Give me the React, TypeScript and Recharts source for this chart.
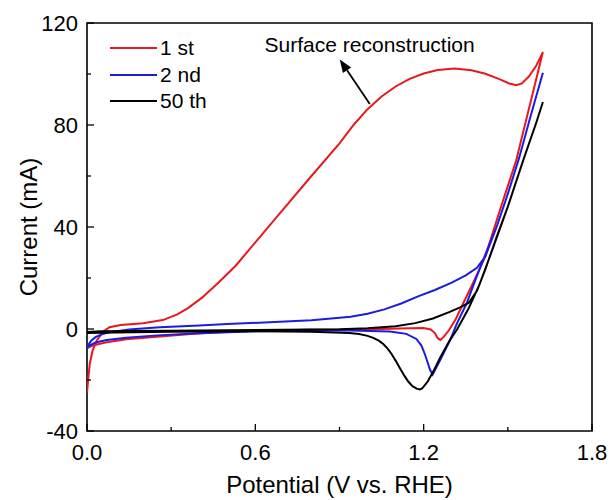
import React from 'react'
import {
  LineChart,
  Line,
  XAxis,
  YAxis,
  ReferenceArea,
  ReferenceLine,
  ReferenceDot,
  Legend,
} from 'recharts'

const FONT = '"Liberation Sans", Arial, sans-serif'

// potential (V vs. RHE), current (mA) -- forward sweep then reverse sweep
const firstForward: [number, number][] = [
  [0, -25], [0.004, -20], [0.01, -13.5], [0.02, -8.5], [0.035, -4.5], [0.055, -1.3],
  [0.08, 0.7], [0.12, 1.6], [0.2, 2.3], [0.27, 3.5], [0.32, 5.6], [0.36, 8.2],
  [0.41, 12.3], [0.47, 18.3], [0.53, 24.8], [0.6, 34], [0.7, 47], [0.8, 60],
  [0.9, 72.8], [0.95, 80], [1.0, 86.2], [1.05, 91.2], [1.1, 95.1], [1.15, 98.1],
  [1.2, 100.2], [1.25, 101.6], [1.31, 102.2], [1.37, 101.5], [1.42, 100.1], [1.47, 98],
  [1.505, 96.3], [1.53, 95.6], [1.55, 96.3], [1.575, 99], [1.6, 103], [1.625, 108.6],
]
const firstReverse: [number, number][] = [
  [1.58, 88.5], [1.53, 66.2], [1.47, 46], [1.418, 28], [1.38, 19], [1.345, 11],
  [1.315, 4], [1.29, -0.5], [1.272, -3], [1.26, -4.3], [1.25, -3.6], [1.24, -1.6],
  [1.225, -0.2], [1.2, 0.4], [1.15, 0.3], [1.05, 0], [0.9, -0.3], [0.79, -0.3],
  [0.6, -0.7], [0.45, -1.4], [0.37, -2], [0.25, -3], [0.14, -4], [0.07, -5.2],
  [0.02, -6.5], [0, -7.5],
]

const secondForward: [number, number][] = [
  [0, -8], [0.005, -6.2], [0.015, -4.6], [0.03, -3.2], [0.055, -2], [0.08, -1.3],
  [0.15, -0.2], [0.26, 0.7], [0.4, 1.4], [0.5, 2], [0.65, 2.6], [0.8, 3.4],
  [0.94, 4.8], [1.0, 6], [1.06, 7.7], [1.12, 10], [1.18, 12.8], [1.24, 15.3],
  [1.3, 18.2], [1.35, 21], [1.39, 24], [1.42, 28.5], [1.46, 40], [1.5, 53],
  [1.54, 67], [1.58, 83], [1.625, 100.5],
]
const secondReverse: [number, number][] = [
  [1.58, 83], [1.54, 67], [1.5, 53], [1.46, 40], [1.41, 26.5], [1.38, 18],
  [1.353, 10], [1.32, 2.5], [1.293, -4.6], [1.258, -12.4], [1.232, -17.9], [1.222, -15.8],
  [1.216, -13.7], [1.204, -9.8], [1.192, -6.5], [1.174, -3.9], [1.138, -1.9], [1.08, -1],
  [0.94, -0.6], [0.8, -0.5], [0.6, -0.9], [0.38, -1.8], [0.25, -2.5], [0.14, -3.4],
  [0.07, -4.3], [0.03, -5.3], [0, -7],
]

const fiftiethForward: [number, number][] = [
  [0, -1.2], [0.05, -0.9], [0.3, -0.7], [0.6, -0.4], [0.9, -0.1], [1.0, 0.3],
  [1.1, 1.1], [1.17, 2.3], [1.233, 4.1], [1.293, 6.7], [1.33, 8.5], [1.36, 10.2],
  [1.39, 15], [1.42, 23.5], [1.46, 36], [1.5, 48], [1.555, 66.2], [1.6, 80.5],
  [1.625, 89],
]
const fiftiethReverse: [number, number][] = [
  [1.6, 80.5], [1.555, 66.2], [1.5, 48], [1.443, 30.5], [1.4, 17.7], [1.36, 8],
  [1.32, 0], [1.29, -5], [1.26, -11], [1.235, -16.5], [1.215, -20.5], [1.2, -22.6],
  [1.193, -23.4], [1.186, -23.7], [1.175, -23.4], [1.16, -22.4], [1.145, -20.6], [1.13, -18.1],
  [1.115, -15.3], [1.1, -12.4], [1.085, -9.7], [1.07, -7.5], [1.055, -5.8], [1.04, -4.6],
  [1.02, -3.5], [1.0, -2.7], [0.97, -2.0], [0.936, -1.6], [0.8, -1.1], [0.6, -0.9],
  [0.3, -1.1], [0.1, -1.4], [0, -1.6],
]

const potentialTicks = [0, 0.3, 0.6, 0.9, 1.2, 1.5, 1.8]
const currentTicks = [-40, -20, 0, 20, 40, 60, 80, 100, 120]

// annotation anchors, in data units
const noteText = { v: 0.633, i: 108.7 }
const arrowTail = { v: 1.008, i: 88.2 }
const arrowTip = { v: 0.901, i: 105.7 }

const toPoints = (pairs: [number, number][]) => pairs.map(([v, i]) => ({ v, i }))

const cycles = [
  { name: '1 st', color: '#e8181e', data: toPoints([...firstForward, ...firstReverse]) },
  { name: '2 nd', color: '#1c1ce0', data: toPoints([...secondForward, ...secondReverse]) },
  { name: '50 th', color: '#000000', data: toPoints([...fiftiethForward, ...fiftiethReverse]) },
]

const X_MARGIN = 13
const Y_MARGIN = 9
const TICK_FONT = 22

const PotentialTick = (props: any) => {
  const { x, y, payload } = props
  const v = payload.value
  const major = Math.abs(v / 0.6 - Math.round(v / 0.6)) < 1e-6
  const axisY = y - X_MARGIN
  return (
    <g>
      <line x1={x} x2={x} y1={axisY} y2={axisY - (major ? 7 : 4)} stroke="#000" strokeWidth={1.3} />
      {major && (
        <text x={x} y={y} dy="0.71em" textAnchor="middle" fontSize={TICK_FONT} fontFamily={FONT} fill="#000">
          {v.toFixed(1)}
        </text>
      )}
    </g>
  )
}

const CurrentTick = (props: any) => {
  const { x, y, payload } = props
  const v = payload.value
  const major = v % 40 === 0
  const axisX = x + Y_MARGIN
  return (
    <g>
      <line x1={axisX} x2={axisX + (major ? 7 : 4)} y1={y} y2={y} stroke="#000" strokeWidth={1.3} />
      {major && (
        <text x={x} y={y} dy="0.36em" textAnchor="end" fontSize={TICK_FONT} fontFamily={FONT} fill="#000">
          {v}
        </text>
      )}
    </g>
  )
}

const ArrowShape = (props: any) => {
  const { x1, y1, x2, y2 } = props
  const a = Math.atan2(y2 - y1, x2 - x1)
  const len = 13
  const half = 5
  const bx = x2 - len * Math.cos(a)
  const by = y2 - len * Math.sin(a)
  const px = -Math.sin(a) * half
  const py = Math.cos(a) * half
  return (
    <g>
      <line x1={x1} y1={y1} x2={bx} y2={by} stroke="#000" strokeWidth={1.8} />
      <polygon points={`${x2},${y2} ${bx + px},${by + py} ${bx - px},${by - py}`} fill="#000" />
    </g>
  )
}

const NoteShape = (props: any) => (
  <text x={props.cx} y={props.cy} fontSize={21} fontFamily={FONT} fill="#000">
    Surface reconstruction
  </text>
)

const renderLegend = ({ payload }: any) => (
  <div style={{ fontFamily: FONT, fontSize: 21, color: '#000' }}>
    {(payload || []).map((entry: any) => (
      <div key={entry.value} style={{ display: 'flex', alignItems: 'center', height: 26.5 }}>
        <svg width={47} height={4} style={{ display: 'block' }}>
          <line x1={0} x2={47} y1={2} y2={2} stroke={entry.color} strokeWidth={2} />
        </svg>
        <span style={{ marginLeft: 3, lineHeight: '26px' }}>{entry.value}</span>
      </div>
    ))}
  </div>
)

export default function App() {
  return (
    <div style={{ position: 'absolute', left: 0, top: 0, width: 611, height: 500, background: '#fff' }}>
      <LineChart width={611} height={500} margin={{ top: 23, right: 19, bottom: 0, left: 0 }}>
        <XAxis
          type="number"
          dataKey="v"
          domain={[0, 1.8]}
          ticks={potentialTicks}
          interval={0}
          allowDataOverflow
          height={69}
          axisLine={false}
          tickLine={false}
          tickSize={0}
          tickMargin={X_MARGIN}
          tick={PotentialTick}
          label={{
            value: 'Potential (V vs. RHE)',
            position: 'insideBottom',
            offset: 7,
            fontSize: 24,
            fontFamily: FONT,
            fill: '#000',
          }}
        />
        <YAxis
          type="number"
          domain={[-40, 120]}
          ticks={currentTicks}
          interval={0}
          allowDataOverflow
          width={87}
          axisLine={false}
          tickLine={false}
          tickSize={0}
          tickMargin={Y_MARGIN}
          tick={CurrentTick}
          label={{
            value: 'Current (mA)',
            angle: -90,
            position: 'insideLeft',
            offset: 28,
            fontSize: 24,
            fontFamily: FONT,
            fill: '#000',
            style: { textAnchor: 'middle' },
          }}
        />
        <ReferenceArea x1={0} x2={1.8} y1={-40} y2={120} fill="none" stroke="#000" strokeWidth={1.6} />
        {cycles.map((c) => (
          <Line
            key={c.name}
            name={c.name}
            data={c.data}
            dataKey="i"
            type="linear"
            stroke={c.color}
            strokeWidth={2}
            dot={false}
            activeDot={false}
            isAnimationActive={false}
          />
        ))}
        <ReferenceLine
          segment={[{ x: arrowTail.v, y: arrowTail.i }, { x: arrowTip.v, y: arrowTip.i }]}
          shape={ArrowShape}
        />
        <ReferenceDot x={noteText.v} y={noteText.i} r={0} shape={NoteShape} />
        <Legend
          layout="vertical"
          align="center"
          verticalAlign="middle"
          wrapperStyle={{ left: 110, top: 35 }}
          content={renderLegend}
        />
      </LineChart>
    </div>
  )
}
